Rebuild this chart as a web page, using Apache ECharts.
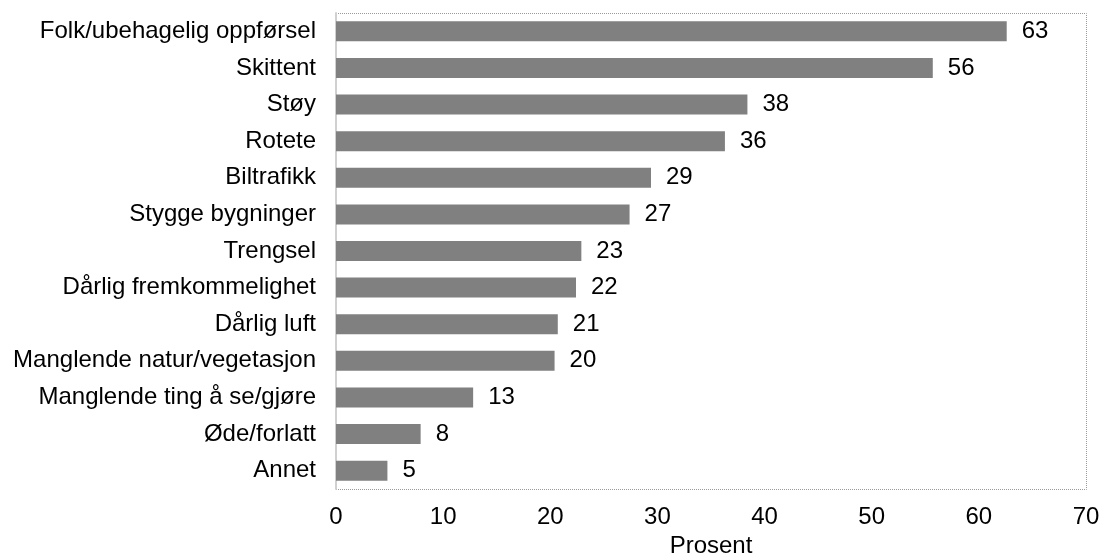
<!DOCTYPE html>
<html>
<head>
<meta charset="utf-8">
<script src="https://cdn.jsdelivr.net/npm/echarts@6/dist/echarts.min.js"></script>
<style>
  html, body { margin: 0; padding: 0; background: #fff; }
  #chart { width: 1101px; height: 554px; }
</style>
</head>
<body>
<div id="chart"></div>
<script>
// categories top to bottom
const categories = [
  'Folk/ubehagelig oppførsel',
  'Skittent',
  'Støy',
  'Rotete',
  'Biltrafikk',
  'Stygge bygninger',
  'Trengsel',
  'Dårlig fremkommelighet',
  'Dårlig luft',
  'Manglende natur/vegetasjon',
  'Manglende ting å se/gjøre',
  'Øde/forlatt',
  'Annet'
]
const values = [62.6, 55.7, 38.4, 36.3, 29.4, 27.4, 22.9, 22.4, 20.7, 20.4, 12.8, 7.9, 4.8]
const xTicks = [0, 10, 20, 30, 40, 50, 60, 70]

const font = 'Liberation Sans, Arial, sans-serif'
const chart = echarts.init(document.getElementById('chart'))

chart.setOption({
  animation: false,
  grid: { left: 336, right: 15, top: 13, bottom: 65, containLabel: false, outerBoundsMode: 'none' },
  xAxis: {
    type: 'value',
    min: xTicks[0],
    max: xTicks[xTicks.length - 1],
    interval: 10,
    name: 'Prosent',
    nameLocation: 'middle',
    nameGap: 37,
    nameTextStyle: { color: '#000', fontSize: 24, fontFamily: font },
    axisLine: { show: false },
    axisTick: { show: false },
    splitLine: { show: false },
    axisLabel: { color: '#000', fontSize: 24, fontFamily: font, margin: 16 }
  },
  yAxis: {
    type: 'category',
    data: categories,
    inverse: true,
    axisLine: { show: true, lineStyle: { color: '#d0d0d0', width: 2 } },
    axisTick: { show: false },
    axisLabel: { color: '#000', fontSize: 24, fontFamily: font, margin: 20 }
  },
  series: [{
    type: 'bar',
    data: values,
    barWidth: 20,
    itemStyle: { color: '#808080' },
    label: {
      show: true,
      position: 'right',
      distance: 15,
      color: '#000',
      fontSize: 24,
      fontFamily: font,
      formatter: (p) => String(Math.round(p.value))
    }
  }]
})

// dotted plot border
const gridRect = chart.getModel().getComponent('grid').coordinateSystem.getRect()
chart.setOption({
  graphic: [{
    type: 'polyline',
    shape: { points: [
      [gridRect.x, gridRect.y + 0.5],
      [gridRect.x + gridRect.width + 0.5, gridRect.y + 0.5],
      [gridRect.x + gridRect.width + 0.5, gridRect.y + gridRect.height + 0.5],
      [gridRect.x, gridRect.y + gridRect.height + 0.5]
    ] },
    style: { stroke: '#9a9a9a', lineWidth: 1, lineDash: [1, 1], fill: null },
    z: 0
  }]
})
</script>
</body>
</html>
